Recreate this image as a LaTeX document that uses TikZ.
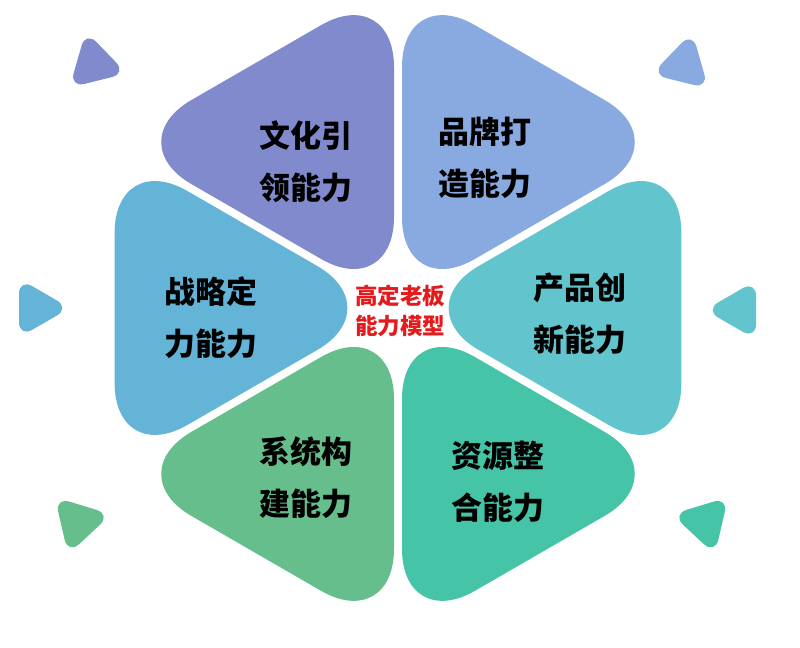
\documentclass[tikz,border=0pt]{standalone}
\usepackage{fontspec}
\newfontfamily\cjk{Noto Sans CJK SC}
\definecolor{wenhuaC}{HTML}{808ACC}
\definecolor{pinpaiC}{HTML}{89AAE1}
\definecolor{zhanlueC}{HTML}{64B4D7}
\definecolor{chanpinC}{HTML}{62C4CC}
\definecolor{xitongC}{HTML}{66BE8C}
\definecolor{ziyuanC}{HTML}{46C4A8}
\definecolor{hubred}{HTML}{E41A1C}
\begin{document}
\begin{tikzpicture}[x=0.025cm,y=0.025cm,
    petal/.style={rounded corners=2.1cm},
    chip/.style={rounded corners=0.38cm},
    skill/.style={font=\cjk\bfseries\fontsize{22}{37}\selectfont,align=center,text=black},
    hub/.style={font=\cjk\bfseries\fontsize{16}{21}\selectfont,align=center,text=hubred}]
  \useasboundingbox (0,0) rectangle (800,648);
  \coordinate (O) at (398,340);
  % six petals of the hexagon
  \fill[wenhuaC,petal,shift={(O)},shift={(120:8)}] (0,0) -- (90:318) -- (150:318) -- cycle;
  \fill[pinpaiC,petal,shift={(O)},shift={(60:8)}] (0,0) -- (30:318) -- (90:318) -- cycle;
  \fill[zhanlueC,petal,shift={(O)},shift={(180:8)}] (0,0) -- (150:318) -- (210:318) -- cycle;
  \fill[chanpinC,petal,shift={(O)},shift={(0:8)}] (0,0) -- (-30:318) -- (30:318) -- cycle;
  \fill[xitongC,petal,shift={(O)},shift={(240:8)}] (0,0) -- (210:318) -- (270:318) -- cycle;
  \fill[ziyuanC,petal,shift={(O)},shift={(300:8)}] (0,0) -- (270:318) -- (330:318) -- cycle;
  % small triangles outside
  \fill[wenhuaC,chip,shift={(94,584)},rotate=-16] (0:34) -- (120:34) -- (240:34) -- cycle;
  \fill[pinpaiC,chip,shift={(684,583)},rotate=196] (0:34) -- (120:34) -- (240:34) -- cycle;
  \fill[zhanlueC,chip,shift={(36,340)},rotate=0] (0:34) -- (120:34) -- (240:34) -- cycle;
  \fill[chanpinC,chip,shift={(739,338)},rotate=180] (0:34) -- (120:34) -- (240:34) -- cycle;
  \fill[xitongC,chip,shift={(78,126)},rotate=13] (0:34) -- (120:34) -- (240:34) -- cycle;
  \fill[ziyuanC,chip,shift={(705,126)},rotate=167] (0:34) -- (120:34) -- (240:34) -- cycle;
  % labels
  \node[skill] (wenhua) at (306,486) {文化引\\领能力};
  \node[skill] (pinpai) at (485,490) {品牌打\\造能力};
  \node[skill] (zhanlue) at (211,330) {战略定\\力能力};
  \node[skill] (chanpin) at (580,334) {产品创\\新能力};
  \node[skill] (xitong) at (306,170) {系统构\\建能力};
  \node[skill] (ziyuan) at (498,166) {资源整\\合能力};
  \node[hub] (model) at (400,337) {高定老板\\能力模型};
\end{tikzpicture}
\end{document}
